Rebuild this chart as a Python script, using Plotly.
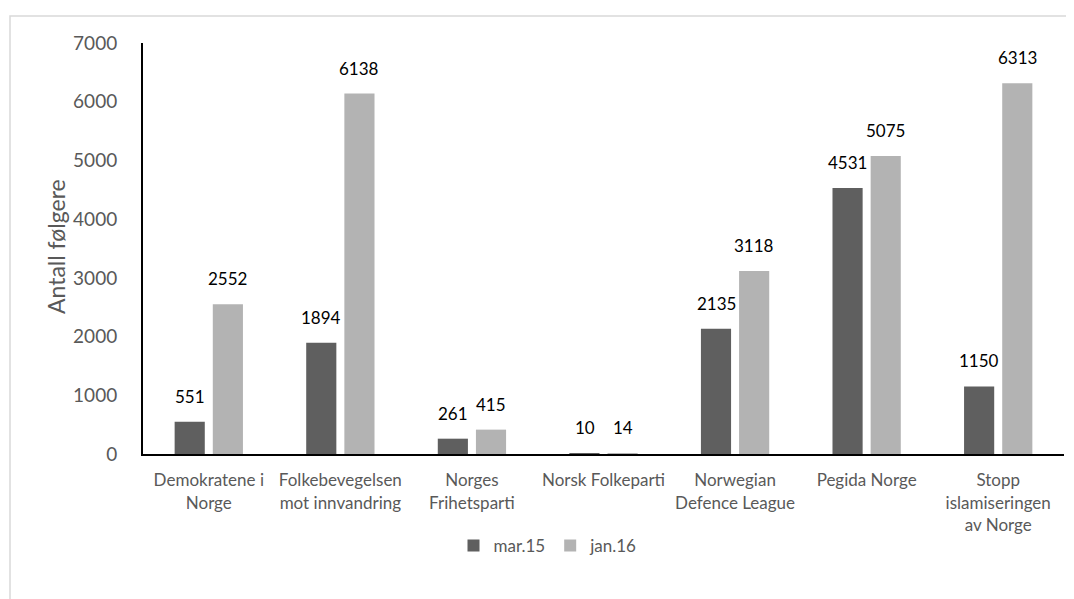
import plotly.graph_objects as go

categories = [
    "Demokratene i<br>Norge",
    "Folkebevegelsen<br>mot innvandring",
    "Norges<br>Frihetsparti",
    "Norsk Folkeparti",
    "Norwegian<br>Defence League",
    "Pegida Norge",
    "Stopp<br>islamiseringen<br>av Norge",
]
series_names = ["mar.15", "jan.16"]
mar15 = [551, 1894, 261, 10, 2135, 4531, 1150]
jan16 = [2552, 6138, 415, 14, 3118, 5075, 6313]
y_ticks = [0, 1000, 2000, 3000, 4000, 5000, 6000, 7000]

colors = ["#5f5f5f", "#b3b3b3"]
FONT = "Lato, 'Open Sans', sans-serif"

# page has an 8px body margin; figure coordinates are screenshot - 8
OFF = 8
W, H = 1074 - OFF, 599 - OFF
L, T = 143 - OFF, 43 - OFF
R = W - (1064 - OFF)
B = H - (454 - OFF)
pw, ph = W - L - R, H - T - B

def px_x(x):
    return (x - OFF - L) / pw

def px_y(y):
    return ((T + ph) - (y - OFF)) / ph

fig = go.Figure()
for name, vals, col in zip(series_names, [mar15, jan16], colors):
    fig.add_trace(go.Bar(x=categories, y=vals, name=name, marker=dict(color=col, line=dict(width=0))))

annotations = []
for vals, shift in [(mar15, -19), (jan16, 19)]:
    for c, v in zip(categories, vals):
        annotations.append(dict(x=c, y=v, xref="x", yref="y", text=str(v), showarrow=False,
                                xshift=shift, yshift=13, yanchor="bottom",
                                font=dict(family=FONT, size=17, color="#000000")))

annotations.append(dict(x=px_x(56), y=px_y(247), xref="paper", yref="paper", text="Antall følgere",
                        textangle=-90, showarrow=False, xanchor="center", yanchor="middle",
                        font=dict(family=FONT, size=23, color="#595959")))

fig.update_layout(
    width=W, height=H,
    margin=dict(l=L, r=R, t=T, b=B, pad=0),
    paper_bgcolor="white", plot_bgcolor="white",
    barmode="group", bargap=0.42, bargroupgap=0.21,
    showlegend=True,
    legend=dict(orientation="h", x=px_x(548), xanchor="center", y=px_y(546),
                yanchor="middle", font=dict(family=FONT, size=17, color="#595959"),
                itemwidth=30, tracegroupgap=0, bgcolor="rgba(0,0,0,0)"),
    annotations=annotations,
    shapes=[dict(type="rect", xref="paper", yref="paper",
                 x0=px_x(10), x1=px_x(1090),
                 y0=px_y(620), y1=px_y(16),
                 line=dict(color="#d9d9d9", width=1.5), fillcolor="rgba(0,0,0,0)", layer="below")],
    font=dict(family=FONT),
)
fig.update_xaxes(showline=True, linecolor="black", linewidth=2, showgrid=False,
                 ticks="outside", ticklen=10, tickcolor="rgba(0,0,0,0)",
                 tickfont=dict(family=FONT, size=17, color="#595959"), fixedrange=True)
fig.update_yaxes(range=[0, 7000], tickvals=y_ticks, showline=True, linecolor="black", linewidth=2,
                 showgrid=False, zeroline=False, ticks="outside", ticklen=20,
                 tickcolor="rgba(0,0,0,0)", tickfont=dict(family=FONT, size=19, color="#595959"))

fig.write_html("out.html")
